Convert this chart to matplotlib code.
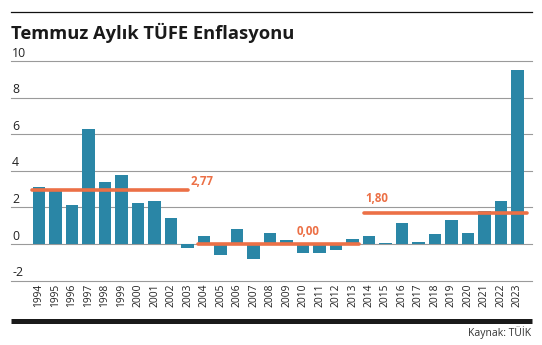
import matplotlib.pyplot as plt
import matplotlib.transforms as mtransforms

years = [str(y) for y in range(1994, 2024)]
tufe = [3.14, 3.00, 2.16, 6.28, 3.37, 3.80, 2.27, 2.38, 1.44, -0.24,
        0.46, -0.62, 0.85, -0.80, 0.58, 0.24, -0.51, -0.46, -0.31, 0.29,
        0.46, 0.07, 1.16, 0.13, 0.56, 1.33, 0.58, 1.82, 2.38, 9.52]

# ortalama çizgileri (dönem başı, dönem sonu indeksleri)
avg_start = [0, 10, 20]
avg_end = [9, 19, 29]
avg_level = [2.97, 0.0, 1.68]
avg_labels = ['2,77', '0,00', '1,80']

yticks = [-2, 0, 2, 4, 6, 8, 10]

bar_color = '#2a86a6'
orange = '#ec7046'
font = ['Open Sans', 'DejaVu Sans']
plt.rcParams['font.family'] = font

fig = plt.figure(figsize=(5.42, 3.45), dpi=100)
ax = fig.add_axes([11 / 542, 64.3 / 345, 521 / 542, 219.7 / 345])

x = list(range(len(years)))
ax.bar(x, tufe, width=0.76, color=bar_color, zorder=2)

for t in yticks:
    ax.axhline(t, color='#9a9a9a', lw=0.8, zorder=1, clip_on=False)

trans = mtransforms.blended_transform_factory(ax.transAxes, ax.transData)
for t in yticks:
    ax.text(0.002, t + 0.08, str(t), transform=trans, fontsize=8.8,
            color='#222222', ha='left', va='bottom')

pad_l = [-0.42, -0.36, -0.3]
pad_r = [0.0, 0.4, 0.6]
for s, e, lv, a, b in zip(avg_start, avg_end, avg_level, pad_l, pad_r):
    ax.plot([s + a, e + b], [lv, lv], color=orange,
            lw=2.6, solid_capstyle='round', zorder=3)

ax.text(avg_end[0] + 0.2, avg_level[0] + 0.12, avg_labels[0], color=orange,
        fontsize=8.3, fontweight='bold', ha='left', va='bottom')
ax.text(15.6, avg_level[1] + 0.33, avg_labels[1], color=orange,
        fontsize=8.3, fontweight='bold', ha='left', va='bottom')
ax.text(avg_start[2] - 0.25, avg_level[2] + 0.45, avg_labels[2], color=orange,
        fontsize=8.3, fontweight='bold', ha='left', va='bottom')

ax.set_xlim(-1.70, 29.88)
ax.set_ylim(-2, 10)
ax.set_xticks(x)
ax.set_xticklabels(years, rotation=90, fontsize=7.4, color='#222222')
ax.tick_params(axis='x', length=0, pad=2)
ax.set_yticks([])
for sp in ax.spines.values():
    sp.set_visible(False)

# başlık ve çizgiler
fig.add_artist(plt.Line2D([11 / 542, 532 / 542], [1 - 12 / 345, 1 - 12 / 345],
                          color='#111111', lw=0.9))
fig.text(11 / 542, 1 - 33 / 345, 'Temmuz Aylık TÜFE Enflasyonu', fontsize=13.2,
         fontweight='bold', color='#1a1a1a', ha='left', va='center')
fig.add_artist(plt.Line2D([11 / 542, 532 / 542], [1 - 320.5 / 345, 1 - 320.5 / 345],
                          color='#1a1a1a', lw=3.6, solid_capstyle='butt'))
fig.text(531 / 542, 1 - 333 / 345, 'Kaynak: TÜİK', fontsize=7.5, color='#333333',
         ha='right', va='center')

fig.savefig('out.png', dpi=100)
